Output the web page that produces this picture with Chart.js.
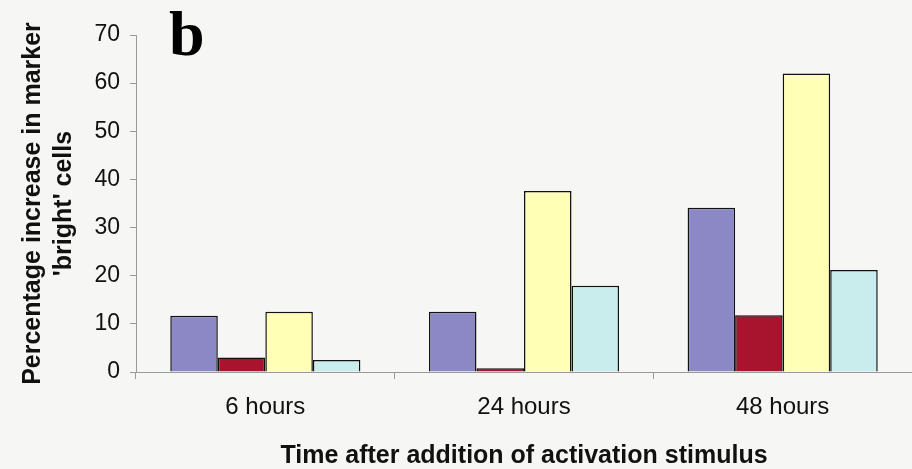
<!DOCTYPE html>
<html><head><meta charset="utf-8">
<script src="https://cdn.jsdelivr.net/npm/chart.js@4/dist/chart.umd.min.js"></script>
<style>html,body{margin:0;padding:0;background:#f6f6f4;}#wrap{width:912px;height:469px;}</style>
</head><body><div id="wrap"><canvas id="c" width="912" height="469"></canvas></div>
<script>
const categories = ['6 hours', '24 hours', '48 hours'];
const seriesA = [11.7, 12.5, 34.1];
const seriesB = [3.0, 0.8, 11.8];
const seriesC = [12.5, 37.6, 62.0];
const seriesD = [2.5, 17.9, 21.2];
const yTitleLines = ['Percentage increase in marker', "'bright' cells"];
const xTitle = 'Time after addition of activation stimulus';
const panelLabel = 'b';

const bg = {
  id: 'bg',
  beforeDraw(chart) {
    const ctx = chart.ctx;
    ctx.save(); ctx.fillStyle = '#f6f6f4'; ctx.fillRect(0, 0, chart.width, chart.height); ctx.restore();
  },
  afterDraw(chart) {
    const ctx = chart.ctx;
    ctx.save();
    ctx.font = 'bold 64px "Liberation Serif", "DejaVu Serif", serif';
    ctx.fillStyle = '#000';
    ctx.textBaseline = 'alphabetic';
    ctx.fillText(panelLabel, 169, 55);
    ctx.restore();
  }
};

const ds = (label, data, color) => ({
  label, data, backgroundColor: color, borderColor: '#111', borderWidth: 1.5,
  barPercentage: 1.0, categoryPercentage: 0.735
});

const sans = '"Liberation Sans", Arial, sans-serif';

new Chart(document.getElementById('c'), {
  type: 'bar',
  data: {
    labels: categories,
    datasets: [
      ds('A', seriesA, '#8c88c6'),
      ds('B', seriesB, '#a8142e'),
      ds('C', seriesC, '#ffffb6'),
      ds('D', seriesD, '#c9ecec')
    ]
  },
  plugins: [bg],
  options: {
    responsive: false, animation: false, devicePixelRatio: 1,
    layout: { padding: { top: 35, right: 0, left: 0, bottom: 0 } },
    plugins: { legend: { display: false }, tooltip: { enabled: false } },
    scales: {
      x: {
        afterFit(s) { s.height = 97; },
        grid: { offset: true, drawOnChartArea: false, drawTicks: true, tickLength: 7, color: '#9a9a9a' },
        border: { color: '#9a9a9a', width: 1 },
        ticks: { color: '#111', font: { family: sans, size: 24 }, padding: 14 },
        title: { display: true, text: xTitle, color: '#111',
          font: { family: sans, size: 25, weight: 'bold', lineHeight: 1.0 }, padding: { top: 0, bottom: 0 } }
      },
      y: {
        min: 0, max: 70,
        afterFit(s) { s.width = 136; },
        grid: { drawOnChartArea: false, drawTicks: true, tickLength: 6, color: '#9a9a9a' },
        border: { color: '#9a9a9a', width: 1 },
        ticks: { stepSize: 10, color: '#111', font: { family: sans, size: 23 }, padding: 10 },
        title: { display: true, text: yTitleLines, color: '#111',
          font: { family: sans, size: 25, weight: 'bold', lineHeight: 1.24 }, padding: { top: 18, bottom: 0 } }
      }
    }
  }
});
</script></body></html>
